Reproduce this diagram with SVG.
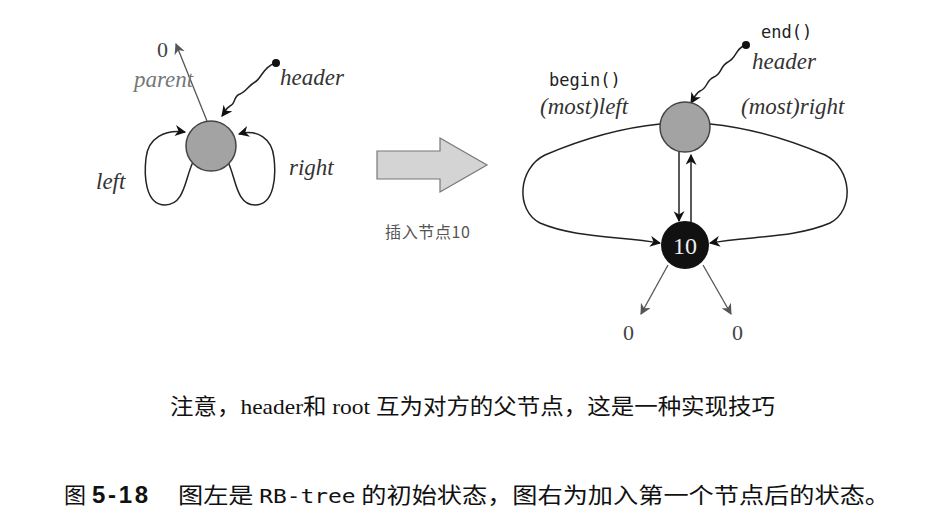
<svg xmlns="http://www.w3.org/2000/svg" width="937" height="520" viewBox="0 0 937 520">
<defs>
<marker id="ahg" viewBox="0 0 10 10" refX="9" refY="5" markerWidth="11" markerHeight="11" orient="auto" markerUnits="userSpaceOnUse">
<path d="M0,0 L10,5 L0,10 L3,5 z" fill="#555"/>
</marker>
<marker id="ahb" viewBox="0 0 10 10" refX="9" refY="5" markerWidth="11" markerHeight="11" orient="auto" markerUnits="userSpaceOnUse">
<path d="M0,0 L10,5 L0,10 L3,5 z" fill="#111"/>
</marker>
</defs>
<style>
.it{font-family:"Liberation Serif",serif;font-style:italic;font-size:23px;fill:#333}
.itg{font-family:"Liberation Serif",serif;font-style:italic;font-size:23px;fill:#777}
.num{font-family:"Liberation Serif",serif;font-size:22px;fill:#444}
.mono{font-family:"DejaVu Sans Mono","Liberation Mono",monospace;font-size:17px;fill:#222}
.line{fill:none;stroke:#222;stroke-width:1.5}
.thin{fill:none;stroke:#555;stroke-width:1.3}
.grey{fill:#a3a3a3;stroke:#444;stroke-width:1.5}
</style>
<rect width="937" height="520" fill="#fff"/>

<g id="connectors">
<path class="thin" d="M207,121 L176,44" marker-end="url(#ahg)" stroke="#888"/>
<path class="line" d="M275,63 C262,68 262,78 255,82 C248,86 246,92 240,94 C233,96 236,104 230,106 C226,108 225,112 222,116" marker-end="url(#ahb)"/>
<path class="line" d="M193,162 C185,178 185,205 165,205 C145,205 144,175 146,158 C148,138 165,129 185,132" marker-end="url(#ahb)"/>
<path class="line" d="M228,162 C236,178 236,205 255,205 C275,205 276,175 274,158 C272,138 257,129 239,134" marker-end="url(#ahb)"/>
<path class="line" d="M746,45 C735,48 737,58 728,62 C720,66 722,74 714,77 C706,80 708,88 700,91 C695,94 694,98 691,103" marker-end="url(#ahb)"/>
<path class="line" d="M660,124 C620,128 580,140 545,155 C518,168 515,210 540,223 C575,238 620,236 660,243" marker-end="url(#ahb)"/>
<path class="line" d="M710,124 C750,128 790,140 825,155 C852,168 855,210 830,223 C795,238 750,236 710,243" marker-end="url(#ahb)"/>
<path class="line" stroke-width="1.2" d="M679,151 L679,221" marker-end="url(#ahb)"/>
<path class="line" stroke-width="1.2" d="M691,222 L691,155" marker-end="url(#ahb)"/>
<path class="thin" d="M668,265 L641,314" marker-end="url(#ahg)"/>
<path class="thin" d="M703,265 L731,314" marker-end="url(#ahg)"/>
</g>

<g id="node-left-header">
<circle class="grey" cx="211" cy="146" r="25"/>
</g>
<g id="node-left-header-dot">
<circle cx="276" cy="63" r="4" fill="#111"/>
</g>
<g id="labels-left">
<text class="num" x="157" y="57" fill="#555">0</text>
<text class="itg" x="134" y="87">parent</text>
<text class="it" x="280" y="85">header</text>
<text class="it" x="96" y="189">left</text>
<text class="it" x="289" y="175">right</text>
</g>

<g id="big-arrow">
<path d="M377,151 L440,151 L440,138 L487,165 L440,192 L440,179 L377,179 z" fill="#d4d4d4" stroke="#777" stroke-width="1.2"/>
<text x="385" y="238" font-family="Noto Sans CJK SC,sans-serif" font-size="16" fill="#555" textLength="85">插入节点10</text>
</g>

<g id="node-right-header">
<circle class="grey" cx="685" cy="127" r="25"/>
</g>
<g id="node-right-header-dot">
<circle cx="746" cy="45" r="4" fill="#111"/>
</g>
<g id="node-10">
<circle cx="685" cy="245" r="24" fill="#111"/>
<text x="685" y="254" text-anchor="middle" font-family="Liberation Serif,serif" font-size="24" fill="#eee">10</text>
</g>
<g id="labels-right">
<text class="mono" x="761" y="38">end()</text>
<text class="it" x="752" y="69">header</text>
<text class="mono" x="549" y="86">begin()</text>
<text class="it" x="540" y="114">(most)left</text>
<text class="it" x="741" y="114">(most)right</text>
<text class="num" x="623" y="340">0</text>
<text class="num" x="732" y="340">0</text>
</g>

<g id="captions">
<text x="170" y="414" font-family="Liberation Serif,Noto Sans CJK SC,serif" font-size="22" fill="#111" textLength="605" lengthAdjust="spacingAndGlyphs">注意，header和 root 互为对方的父节点，这是一种实现技巧</text>
<text x="64" y="503" font-family="Noto Sans CJK SC,sans-serif" font-size="22" fill="#111">图</text>
<text x="92" y="503" font-family="Liberation Sans,sans-serif" font-weight="bold" font-size="24" fill="#111" textLength="56">5-18</text>
<text x="178" y="503" font-family="Noto Sans CJK SC,sans-serif" font-size="22" fill="#111" textLength="712" lengthAdjust="spacingAndGlyphs">图左是 <tspan font-family="DejaVu Sans Mono,monospace" font-size="20">RB-tree</tspan> 的初始状态，图右为加入第一个节点后的状态。</text>
</g>
</svg>
